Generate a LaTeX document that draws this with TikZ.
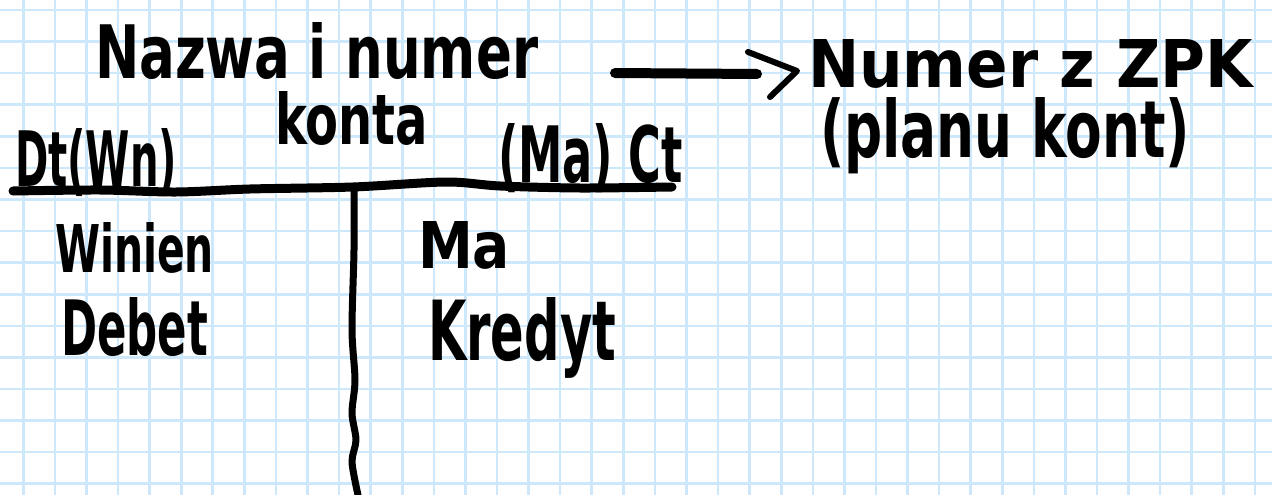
\documentclass[tikz,border=0pt]{standalone}
\usepackage{fontspec}
\setmainfont{DejaVu Sans}
\usepackage{graphicx}
\definecolor{gridblue}{RGB}{205,232,250}
\tikzset{
  hw/.style={anchor=base west, inner sep=0pt, outer sep=0pt, text=black, font=\bfseries},
  gridline/.style={gridblue, line width=2.6pt},
  ink/.style={black, line width=#1, line cap=round, line join=round},
}
\newcommand{\hwtext}[3]{\resizebox{#1pt}{#2pt}{#3}}
\begin{document}
\begin{tikzpicture}[x=1pt,y=-1pt]
\fill[white] (0,0) rectangle (1272,495);
\useasboundingbox (0,0) rectangle (1272,495);
\foreach \k in {0,...,39} \draw[gridline] ({23.3+31.58*\k},0) -- ({23.3+31.58*\k},495);
\foreach \k in {0,...,15} \draw[gridline] (0,{10+31.58*\k}) -- (1272,{10+31.58*\k});

\node[hw] (title) at (95,78) {\hwtext{443}{56}{Nazwa i numer}};
\node[hw] (konta) at (275,144) {\hwtext{153}{53}{konta}};
\node[hw] (zpk) at (808,88) {\hwtext{445}{48}{Numer z ZPK}};
\node[hw] (plan) at (820,157) {\hwtext{370}{60}{(planu kont)}};
\node[hw] (dt) at (15,186) {\hwtext{162}{58}{Dt(Wn)}};
\node[hw] (ct) at (498,182) {\hwtext{185}{59}{(Ma) Ct}};
\node[hw] (winien) at (55,272) {\hwtext{159}{50}{Winien}};
\node[hw] (ma) at (418,268) {\hwtext{92}{47}{Ma}};
\node[hw] (debet) at (61,355) {\hwtext{147}{58}{Debet}};
\node[hw] (kredyt) at (428,360) {\hwtext{188}{63}{Kredyt}};

\draw[ink=9pt] plot[smooth] coordinates {(13,191) (100,190) (176,192) (250,189) (353,187) (446,182) (500,186) (580,188) (672,187)};
\draw[ink=7pt] plot[smooth] coordinates {(354,190) (354,250) (352,330) (355,380) (352,413) (356,440) (352,462) (358,495)};

\coordinate (as) at (615,73);
\coordinate (ae) at (757,74);
\draw[ink=10pt] (as) -- (ae);
\coordinate (h1) at (748,52);
\coordinate (h2) at (797,71);
\coordinate (h3) at (770,97);
\draw[ink=6pt] (h1) -- (h2) -- (h3);
\end{tikzpicture}
\end{document}
